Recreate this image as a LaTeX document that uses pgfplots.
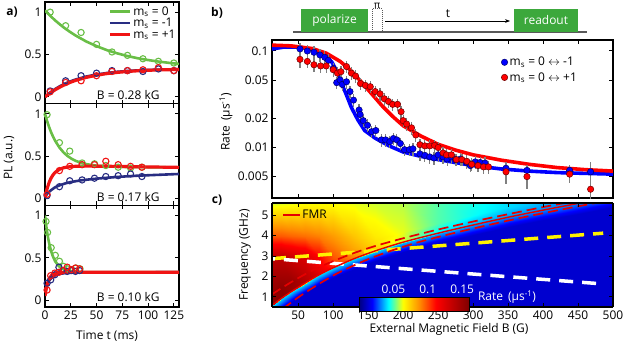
\documentclass[border=0pt]{standalone}
\usepackage{fontspec}
\setmainfont{Open Sans}
\usepackage{pgfplots}
\pgfplotsset{compat=1.18}
\usetikzlibrary{arrows.meta}

\definecolor{agreen}{RGB}{105,190,70}
\definecolor{anavy}{RGB}{40,45,130}
\definecolor{ared}{RGB}{240,20,20}
\definecolor{tgreen}{RGB}{60,168,60}
\definecolor{dblue}{RGB}{0,0,110}
\definecolor{dred}{RGB}{110,0,0}
\newcommand{\fs}{\fontsize{12}{14.4}\selectfont}

\pgfplotsset{
  colormap={ratemap}{rgb(0pt)=(0,0,0.5); rgb(12pt)=(0,0,1); rgb(27pt)=(0,1,1); rgb(40pt)=(1,1,0); rgb(55pt)=(1,0.55,0); rgb(70pt)=(1,0,0); rgb(100pt)=(0.5,0,0)},
  base/.style={scale only axis, enlargelimits=false, tick align=inside,
    axis line style={line width=1.1bp}, major tick style={black, line width=1bp},
    major tick length=4bp, tick label style={font=\fs},
    /pgf/number format/assume math mode=true},
  pa/.style={base, width=134bp, height=101.67bp, xmin=0, xmax=130, ymin=-0.08, ymax=1.12,
    xtick={0,25,50,75,100,125}, ytick={0,0.5,1}, yticklabels={0,0.5,1}},
  fitl/.style={line width=2.6bp},
  dat/.style={only marks, mark=o, mark size=3.1bp, mark options={line width=1.1bp}},
}

\begin{document}
\begin{tikzpicture}

% ---------- panel a, B = 0.28 kG
\begin{axis}[pa, at={(45bp,240.33bp)}, anchor=south west, xticklabel=\empty,
  legend style={draw=none, fill=none, at={(0.47,0.978)}, anchor=north west, inner sep=0pt, font=\fs, row sep=-2.5bp},
  legend image code/.code={\draw[#1] (0bp,0bp) -- (20bp,0bp);}, legend cell align=left]
\addplot[agreen, fitl] coordinates {(0,1.02)(5,0.958)(10,0.901)(15,0.850)(20,0.803)(25,0.761)(30,0.722)(40,0.654)(50,0.599)(60,0.552)(70,0.514)(80,0.482)(90,0.456)(100,0.435)(110,0.417)(120,0.402)(130,0.389)};
\addlegendentry{m\textsubscript{s} = 0}
\addplot[anavy, fitl] coordinates {(0,0)(5,0.052)(10,0.094)(15,0.13)(20,0.16)(25,0.185)(30,0.206)(40,0.24)(50,0.264)(60,0.282)(70,0.296)(80,0.306)(90,0.313)(100,0.318)(110,0.322)(120,0.325)(130,0.327)};
\addlegendentry{m\textsubscript{s} = -1}
\addplot[ared, line width=3.2bp] coordinates {(0,0)(5,0.046)(10,0.085)(15,0.119)(20,0.149)(25,0.174)(30,0.196)(40,0.230)(50,0.256)(60,0.275)(70,0.289)(80,0.300)(90,0.308)(100,0.314)(110,0.318)(120,0.321)(130,0.323)};
\addlegendentry{m\textsubscript{s} = +1}
\addplot[dat, agreen, forget plot] coordinates {(5,1.0)(20,0.84)(35,0.76)(50,0.62)(65,0.53)(80,0.49)(95,0.45)(110,0.42)(125,0.40)};
\addplot[dat, anavy, forget plot] coordinates {(5,0.07)(20,0.19)(35,0.25)(50,0.28)(65,0.31)(80,0.31)(95,0.30)(110,0.33)(125,0.31)};
\addplot[dat, ared, forget plot] coordinates {(5,0.06)(20,0.17)(35,0.19)(50,0.25)(65,0.30)(80,0.31)(95,0.32)(110,0.345)(125,0.31)};
\end{axis}

% ---------- panel a, B = 0.17 kG
\begin{axis}[pa, at={(45bp,138.67bp)}, anchor=south west, xticklabel=\empty]
\addplot[agreen, fitl] coordinates {(0,1.0)(2,0.916)(4,0.843)(6,0.780)(8,0.726)(10,0.679)(14,0.602)(18,0.544)(22,0.501)(26,0.468)(30,0.444)(35,0.422)(40,0.406)(50,0.388)(60,0.379)(80,0.372)(100,0.370)(130,0.368)};
\addplot[anavy, fitl] coordinates {(0,0.02)(3,0.07)(6,0.10)(10,0.135)(15,0.16)(20,0.18)(25,0.195)(35,0.215)(50,0.235)(70,0.255)(90,0.27)(110,0.28)(130,0.29)};
\addplot[ared, line width=3.2bp] coordinates {(0,0.02)(2,0.115)(4,0.19)(6,0.245)(8,0.283)(10,0.31)(14,0.345)(18,0.363)(22,0.373)(26,0.378)(30,0.381)(40,0.383)(60,0.381)(80,0.377)(100,0.373)(130,0.368)};
\addplot[dat, agreen] coordinates {(2,0.99)(14,0.66)(24,0.56)(36,0.42)(48,0.41)(59,0.39)(71,0.37)(83,0.36)(94,0.37)};
\addplot[dat, anavy] coordinates {(2,0.035)(14,0.14)(24,0.21)(36,0.22)(48,0.24)(59,0.26)(71,0.27)(83,0.29)(94,0.26)};
\addplot[dat, ared] coordinates {(2,0.05)(14,0.33)(24,0.38)(36,0.40)(48,0.40)(59,0.44)(71,0.40)(83,0.38)(94,0.37)};
\end{axis}

% ---------- panel a, B = 0.10 kG
\begin{axis}[pa, at={(45bp,37bp)}, anchor=south west]
\addplot[agreen, fitl] coordinates {(0,1.0)(1,0.897)(2,0.810)(3,0.736)(4,0.674)(6,0.576)(8,0.507)(10,0.457)(13,0.407)(16,0.377)(20,0.354)(25,0.340)(30,0.335)(40,0.331)(60,0.33)(130,0.33)};
\addplot[anavy, fitl] coordinates {(0,0.13)(2,0.19)(4,0.23)(6,0.26)(8,0.28)(10,0.295)(14,0.31)(20,0.322)(30,0.328)(130,0.33)};
\addplot[ared, line width=3.2bp] coordinates {(0,0.05)(1,0.12)(2,0.18)(3,0.22)(4,0.25)(6,0.29)(8,0.31)(10,0.32)(14,0.327)(20,0.33)(130,0.33)};
\addplot[dat, agreen] coordinates {(1,0.93)(2.5,0.80)(6,0.62)(10,0.53)(14,0.46)(18,0.40)(22,0.37)(26,0.36)(30,0.38)(34,0.37)};
\addplot[dat, anavy] coordinates {(2,0.20)(5.5,0.24)(9.5,0.30)(13.5,0.39)(17.5,0.35)(21.5,0.34)(25.5,0.35)(29.5,0.34)(33.5,0.35)};
\addplot[dat, ared] coordinates {(2,0.12)(5.5,0.29)(9.5,0.32)(13.5,0.33)(17.5,0.35)(21.5,0.39)(25.5,0.36)(29.5,0.38)(33.5,0.37)};
\end{axis}

% ---------- panel b
\begin{axis}[base, at={(272bp,146bp)}, anchor=south west, width=341bp, height=158bp, xmin=12.5, xmax=500,
  ymode=log, ymin=0.003, ymax=0.13, xtick={50,100,150,200,250,300,350,400,450,500}, xticklabel=\empty,
  ytick={0.005,0.01,0.02,0.05,0.1}, yticklabels={0.005,0.01,0.02,0.05,0.1},
  legend style={draw=none, fill=none, at={(0.672,0.905)}, anchor=north west, inner sep=0pt, font=\fs, row sep=1bp},
  legend cell align=left]
\addplot[blue, line width=3.6bp, forget plot] coordinates {(12.5,0.105)(30,0.11)(50,0.11)(70,0.104)(85,0.092)(98,0.077)(106,0.06)(112,0.046)(119,0.035)(126,0.026)(135,0.0195)(145,0.015)(160,0.0125)(180,0.0104)(200,0.0090)(225,0.0081)(250,0.0075)(300,0.0065)(340,0.0060)(380,0.0057)(420,0.0055)(460,0.0054)(500,0.0053)};
\addplot[red, line width=3.6bp, forget plot] coordinates {(12.5,0.115)(40,0.113)(70,0.106)(90,0.095)(110,0.078)(125,0.063)(140,0.048)(155,0.036)(170,0.027)(185,0.021)(200,0.0168)(225,0.0132)(250,0.0108)(275,0.0094)(300,0.0084)(340,0.0074)(380,0.0067)(420,0.0062)(460,0.0059)(500,0.0057)};
\addplot[only marks, mark=*, mark size=3.2bp, mark options={fill=blue, draw=dblue, line width=0.5bp},
  error bars/.cd, y dir=both, y explicit relative, error mark=none, error bar style={gray, line width=1.2bp}]
  table[x=b, y=r, y error=e] {
b r e
52.5 0.105 0.15
63 0.100 0.15
72.5 0.097 0.15
81 0.091 0.15
88 0.086 0.15
93 0.080 0.15
100 0.066 0.15
105 0.047 0.15
110 0.050 0.15
113 0.045 0.15
119 0.048 0.15
124 0.038 0.15
129 0.031 0.15
137 0.0245 0.15
138.5 0.022 0.15
143 0.019 0.15
149 0.017 0.15
155 0.0146 0.15
161 0.015 0.15
169 0.012 0.15
175 0.012 0.15
181 0.0115 0.15
186 0.0124 0.15
191 0.012 0.15
196 0.011 0.15
202 0.0095 0.15
209 0.0095 0.15
214 0.0097 0.15
224 0.0086 0.15
231 0.0083 0.15
238 0.0080 0.15
244 0.0078 0.15
250 0.0084 0.15
257 0.0080 0.15
263 0.0076 0.15
269 0.0080 0.15
275 0.0075 0.15
282 0.0076 0.15
291 0.0070 0.15
296 0.0065 0.15
303 0.0071 0.15
310 0.0070 0.15
317 0.0069 0.15
347 0.0061 0.15
377 0.0058 0.15
438 0.0058 0.15
468 0.0056 0.25
};
\addlegendentry{m\textsubscript{s} = 0 $\leftrightarrow$ -1}
\addplot[only marks, mark=*, mark size=3.2bp, mark options={fill=red, draw=dred, line width=0.5bp},
  error bars/.cd, y dir=both, y explicit relative, error mark=none, error bar style={gray, line width=1.2bp}]
  table[x=b, y=r, y error=e] {
b r e
52.5 0.082 0.18
63 0.078 0.15
72.5 0.072 0.15
82 0.070 0.15
90 0.070 0.15
100 0.064 0.15
106 0.059 0.15
111 0.061 0.15
119 0.069 0.15
126 0.059 0.15
132 0.055 0.15
139 0.046 0.15
146 0.044 0.15
153 0.0427 0.15
160 0.038 0.15
167 0.036 0.15
173 0.032 0.15
179 0.030 0.15
185 0.028 0.15
192 0.028 0.15
197 0.0235 0.15
200 0.019 0.15
205 0.0175 0.15
212 0.016 0.15
218 0.0135 0.15
224 0.0107 0.15
231 0.0104 0.15
238 0.0104 0.15
245 0.0105 0.15
250 0.0100 0.15
257 0.0088 0.15
262 0.0084 0.15
269 0.0084 0.15
276 0.0075 0.15
284 0.0075 0.15
291 0.0072 0.15
298 0.0067 0.15
307 0.0065 0.15
315 0.0063 0.15
322 0.0063 0.15
347 0.0056 0.25
377 0.0050 0.25
438 0.0053 0.2
468 0.0037 0.4
};
\addlegendentry{m\textsubscript{s} = 0 $\leftrightarrow$ +1}
\end{axis}

% ---------- panel c
\begin{axis}[base, at={(272bp,37bp)}, anchor=south west, width=341bp, height=104bp, view={0}{90},
  xmin=12.5, xmax=500, ymin=0.5, ymax=5.6, zmin=-1, zmax=1,
  xtick={50,100,150,200,250,300,350,400,450,500}, ytick={1,2,3,4,5}, ztick=\empty, axis on top,
  colormap name=ratemap, point meta min=0, point meta max=0.16,
  colorbar horizontal,
  colorbar style={at={(parent axis.south west)}, anchor=south west, xshift=87bp, yshift=4bp,
    width=110bp, height=14bp, scale only axis, xtick={0.05,0.1,0.15}, xticklabels={0.05,0.1,0.15},
    xticklabel pos=upper, xticklabel style={text=white, font=\fs}, xtick style={draw=none},
    axis line style={line width=1bp}},
  legend style={draw=none, fill=none, at={(0.029,0.952)}, anchor=north west, inner sep=0pt, font=\fs},
  legend image code/.code={\draw[#1] (0bp,0bp) -- (17bp,0bp);}]
\addplot3[surf, shader=interp, mesh/ordering=y varies, mesh/rows=8, mesh/cols=15,
  point meta=explicit, forget plot] table[x=b, y=f, z=z, meta=c] {
b f z c
12.5 0.5 0 0.03
12.5 0.5 0 0.03
12.5 0.55 0 0.04
12.5 0.61 0 0.155
12.5 1.08 0 0.155
12.5 3.0 0 0.135
12.5 4.0 0 0.097
12.5 5.6 0 0.06
25 0.5 0 0.02
25 0.5 0 0.02
25 0.87 0 0.04
25 0.93 0 0.155
25 1.4 0 0.155
25 3.0 0 0.135
25 4.0 0 0.097
25 5.6 0 0.061
40 0.5 0 0.013
40 0.75 0 0.013
40 1.22 0 0.04
40 1.28 0 0.15
40 1.75 0 0.15
40 3.0 0 0.13
40 4.0 0 0.095
40 5.6 0 0.062
60 0.5 0 0.012
60 1.18 0 0.012
60 1.65 0 0.04
60 1.71 0 0.14
60 2.18 0 0.135
60 3.0 0 0.125
60 4.0 0 0.093
60 5.6 0 0.064
80 0.5 0 0.012
80 1.58 0 0.012
80 2.05 0 0.04
80 2.11 0 0.125
80 2.58 0 0.115
80 3.0 0 0.112
80 4.0 0 0.09
80 5.6 0 0.064
100 0.5 0 0.012
100 1.92 0 0.012
100 2.39 0 0.04
100 2.45 0 0.108
100 2.92 0 0.098
100 3.0 0 0.097
100 4.0 0 0.085
100 5.6 0 0.064
130 0.5 0 0.012
130 2.37 0 0.012
130 2.84 0 0.04
130 2.90 0 0.09
130 3.37 0 0.082
130 3.37 0 0.082
130 4.0 0 0.076
130 5.6 0 0.062
160 0.5 0 0.012
160 2.75 0 0.012
160 3.22 0 0.038
160 3.28 0 0.075
160 3.75 0 0.07
160 3.75 0 0.07
160 4.0 0 0.068
160 5.6 0 0.06
200 0.5 0 0.012
200 3.18 0 0.012
200 3.65 0 0.036
200 3.71 0 0.06
200 4.18 0 0.062
200 4.18 0 0.062
200 4.18 0 0.062
200 5.6 0 0.058
250 0.5 0 0.012
250 3.62 0 0.012
250 4.09 0 0.034
250 4.15 0 0.042
250 4.62 0 0.05
250 4.62 0 0.05
250 4.62 0 0.05
250 5.6 0 0.05
300 0.5 0 0.012
300 4.02 0 0.012
300 4.49 0 0.032
300 4.55 0 0.036
300 5.02 0 0.044
300 5.02 0 0.044
300 5.02 0 0.044
300 5.6 0 0.045
350 0.5 0 0.012
350 4.4 0 0.012
350 4.87 0 0.03
350 4.93 0 0.033
350 5.4 0 0.04
350 5.4 0 0.04
350 5.4 0 0.04
350 5.6 0 0.04
400 0.5 0 0.012
400 4.75 0 0.012
400 5.22 0 0.03
400 5.28 0 0.032
400 5.6 0 0.036
400 5.6 0 0.036
400 5.6 0 0.036
400 5.6 0 0.036
450 0.5 0 0.012
450 5.08 0 0.012
450 5.55 0 0.03
450 5.6 0 0.03
450 5.6 0 0.03
450 5.6 0 0.03
450 5.6 0 0.03
450 5.6 0 0.03
500 0.5 0 0.012
500 5.4 0 0.012
500 5.6 0 0.02
500 5.6 0 0.02
500 5.6 0 0.02
500 5.6 0 0.02
500 5.6 0 0.02
500 5.6 0 0.02
};
\addplot3[yellow, line width=3.5bp, dash pattern=on 14bp off 9bp, forget plot] coordinates {(12.5,2.87,0)(486,4.12,0)};
\addplot3[white, line width=3.5bp, dash pattern=on 14bp off 9bp, dash phase=11bp, forget plot] coordinates {(12.5,2.87,0)(486,1.63,0)};
\addplot3[red!90!black, line width=1.7bp, dash pattern=on 10bp off 5bp, smooth, forget plot] coordinates {(12.5,1.12,0)(25,1.40,0)(40,1.72,0)(60,2.11,0)(80,2.45,0)(100,2.75,0)(130,3.15,0)(160,3.49,0)(200,3.87,0)(250,4.30,0)(300,4.69,0)(350,5.05,0)(400,5.40,0)(450,5.72,0)};
\addplot3[red!90!black, line width=1.7bp, dash pattern=on 10bp off 5bp, smooth, forget plot] coordinates {(28,0.42,0)(34.5,0.58,0)(47,0.9,0)(62,1.25,0)(82,1.68,0)(102,2.08,0)(122,2.42,0)(152,2.87,0)(182,3.25,0)(222,3.68,0)(272,4.12,0)(322,4.52,0)(372,4.9,0)(422,5.25,0)(472,5.58,0)(522,5.9,0)};
\addplot3[red!90!black, line width=1.4bp, smooth] coordinates {(12.5,0.58,0)(25,0.9,0)(40,1.25,0)(60,1.68,0)(80,2.08,0)(100,2.42,0)(130,2.87,0)(160,3.25,0)(200,3.68,0)(250,4.12,0)(300,4.52,0)(350,4.9,0)(400,5.25,0)(450,5.58,0)(500,5.9,0)};
\addlegendentry{FMR}
\end{axis}

\begin{scope}[x=1bp,y=1bp]
% ---------- labels
\node[font=\bfseries\fs] at (12,332) {a)};
\node[font=\bfseries\fs] at (217,331) {b)};
\node[font=\bfseries\fs] at (217,144) {c)};
\node[font=\fs, rotate=90] at (9,186) {PL (a.u.)};
\node[font=\fs] at (107,8) {Time t (ms)};
\node[font=\fs, anchor=east] at (163,249) {B = 0.28 kG};
\node[font=\fs, anchor=east] at (163,147) {B = 0.17 kG};
\node[font=\fs, anchor=east] at (163,47) {B = 0.10 kG};
\node[font=\fs, rotate=90] at (226,222) {Rate\, (µs\textsuperscript{-1})};
\node[font=\fs, rotate=90] at (245,89) {Frequency (GHz)};
\node[font=\fs] at (449,15) {External Magnetic Field B (G)};
\node[font=\fs, text=white] at (507,47) {Rate\, (µs\textsuperscript{-1})};

% ---------- pulse sequence
\draw[gray!70!black, line width=2bp] (293,312) -- (587,312);
\fill[tgreen] (301,312) rectangle (368,335);
\node[font=\fs, text=white] at (334.5,323.5) {polarize};
\draw[gray!70!black, line width=1bp, densely dotted] (372,312) rectangle (382,335);
\node[font=\fontsize{10}{11}\selectfont, inner sep=0pt] at (377,338) {π};
\draw[-{Stealth[length=5bp]}, line width=0.7bp] (385,323) -- (510,323);
\node[font=\fs] at (448,330) {t};
\fill[tgreen] (514,312) rectangle (578,335);
\node[font=\fs, text=white] at (546,323.5) {readout};
\end{scope}

\pgfresetboundingbox
\path[use as bounding box] (0,0) rectangle (623bp,344bp);
\end{tikzpicture}
\end{document}
